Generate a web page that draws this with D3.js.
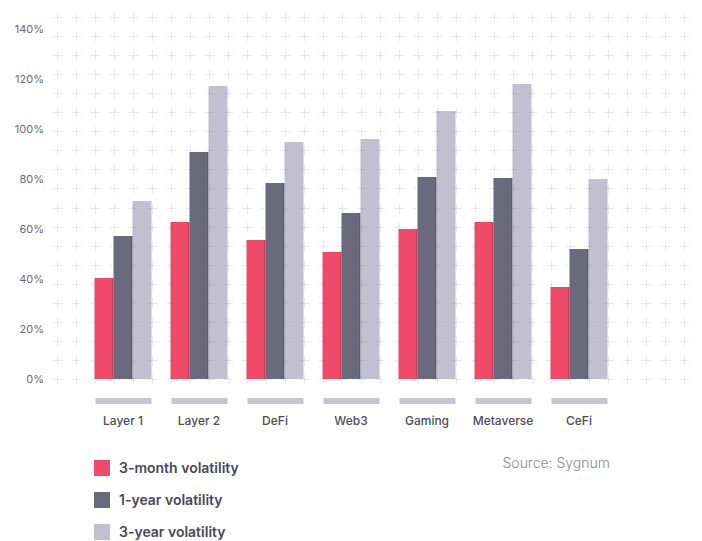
<!DOCTYPE html>
<html>
<head>
<meta charset="utf-8">
<script src="https://cdn.jsdelivr.net/npm/d3@7"></script>
<style>
  html, body { margin: 0; padding: 0; background: #ffffff; }
  svg { display: block; font-family: Inter, "Noto Sans", sans-serif; }
</style>
</head>
<body>
<svg id="chart" width="702" height="541"></svg>
<script>
// Volatility by crypto sector (%)
const categories = ["Layer 1", "Layer 2", "DeFi", "Web3", "Gaming", "Metaverse", "CeFi"];
const seriesNames = ["3-month volatility", "1-year volatility", "3-year volatility"];
const threeMonth = [40.4, 62.8, 55.6, 50.8, 60.0, 62.8, 36.8];
const oneYear    = [57.2, 90.8, 78.4, 66.4, 80.8, 80.4, 52.0];
const threeYear  = [71.2, 117.2, 94.8, 96.0, 107.2, 118.0, 80.0];
const yTicks = [0, 20, 40, 60, 80, 100, 120, 140];
const sourceText = "Source: Sygnum";

const colors = ["#ef4a67", "#6b6a7c", "#c3c0d2"];
const edgeColors = ["#9c2a45", "#3e3d50", null];
const seriesValues = [threeMonth, oneYear, threeYear];

const svg = d3.select("#chart");

const y = d3.scaleLinear().domain([0, 140]).range([379, 29]);
const x = d3.scaleBand().domain(categories).range([94.5, 607.5]).paddingInner(0.25).paddingOuter(0);
const xs = d3.scaleBand().domain(seriesNames).range([0, x.bandwidth()]);

// y-axis labels
const yAxis = d3.axisLeft(y).tickValues(yTicks).tickFormat(d => d + "%").tickSize(0).tickPadding(0);
const yg = svg.append("g").attr("transform", "translate(44,0)").call(yAxis);
yg.select(".domain").remove();
yg.selectAll("text")
  .attr("fill", "#6a6879")
  .style("font-size", "11px")
  .style("font-family", "Inter, sans-serif");

// bars
const groups = svg.append("g").selectAll("g")
  .data(categories)
  .join("g")
  .attr("transform", d => `translate(${x(d)},0)`);

seriesNames.forEach((s, si) => {
  groups.append("rect")
    .attr("x", xs(s))
    .attr("width", xs.bandwidth())
    .attr("y", (d, i) => y(seriesValues[si][i]))
    .attr("height", (d, i) => y(0) - y(seriesValues[si][i]))
    .attr("fill", colors[si]);
  if (edgeColors[si]) {
    groups.append("rect")
      .attr("x", xs(s) + xs.bandwidth() - 1)
      .attr("width", 1)
      .attr("y", (d, i) => y(seriesValues[si][i]))
      .attr("height", (d, i) => y(0) - y(seriesValues[si][i]))
      .attr("fill", edgeColors[si])
      .attr("opacity", 0.6);
  }
});

// cross-mark grid drawn over the plot
const colStep = x.step() / 4;
const gridCols = d3.range(34).map(k => x(categories[0]) - 2 * colStep + k * colStep);
const rowStep = (y(0) - 17) / 19;
const gridRows = d3.range(20).map(j => y(0) - j * rowStep);
const grid = svg.append("g").attr("stroke", "rgba(110,105,135,0.15)").attr("stroke-width", 1);
gridRows.forEach(gy => {
  gridCols.forEach(gx => {
    const cx = Math.round(gx) + 0.5, cy = Math.round(gy) + 0.5;
    grid.append("line").attr("x1", cx - 5).attr("x2", cx + 5).attr("y1", cy).attr("y2", cy);
    grid.append("line").attr("x1", cx).attr("x2", cx).attr("y1", cy - 5).attr("y2", cy + 5);
  });
});

// category markers and labels
const cat = svg.append("g").selectAll("g")
  .data(categories)
  .join("g")
  .attr("transform", d => `translate(${x(d)},0)`);
cat.append("rect")
  .attr("x", 1).attr("y", 398)
  .attr("width", x.bandwidth() - 1).attr("height", 6)
  .attr("fill", "#c6c3d3");
cat.append("text")
  .attr("x", x.bandwidth() / 2).attr("y", 424.5)
  .attr("text-anchor", "middle")
  .attr("fill", "#4d4b5c")
  .style("font-size", "12px")
  .style("font-weight", 500)
  .text(d => d);

// legend
const legend = svg.append("g").selectAll("g")
  .data(seriesNames)
  .join("g")
  .attr("transform", (d, i) => `translate(94,${460 + i * 32})`);
legend.append("rect").attr("width", 16).attr("height", 16).attr("fill", (d, i) => colors[i]);
legend.append("text")
  .attr("x", 25).attr("y", 13)
  .attr("fill", "#4a4859")
  .style("font-size", "14px")
  .style("font-weight", 600)
  .text(d => d);

// source note
svg.append("text")
  .attr("x", 610).attr("y", 468)
  .attr("text-anchor", "end")
  .attr("fill", "#8b889a")
  .style("font-size", "14px")
  .style("font-weight", 300)
  .text(sourceText);
</script>
</body>
</html>
